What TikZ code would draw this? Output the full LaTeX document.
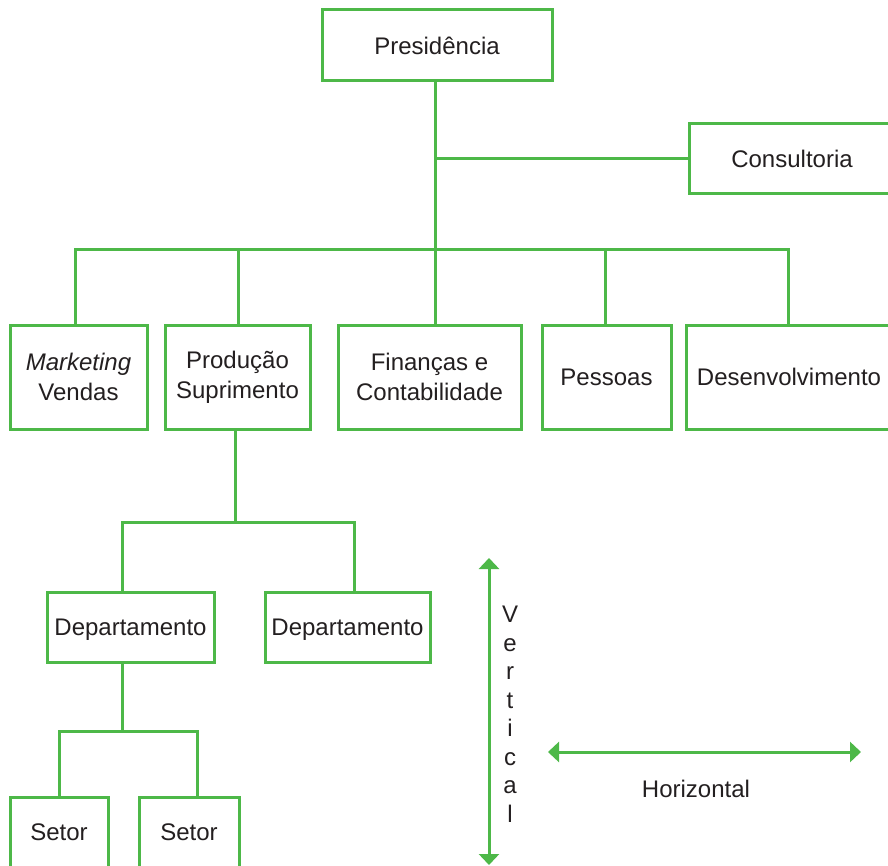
\documentclass[tikz,border=0pt]{standalone}
\usepackage{fontspec}
\setmainfont{Liberation Sans}
\usetikzlibrary{arrows.meta}
\definecolor{orggreen}{HTML}{4DB848}
\definecolor{orgtext}{HTML}{231F20}
\begin{document}
\begin{tikzpicture}[x=1pt,y=-1pt,
  box/.style={draw=orggreen,line width=3pt,fill=white,text=orgtext,align=center,
    inner sep=0pt,font=\fontsize{24}{30}\selectfont},
  link/.style={draw=orggreen,line width=3pt},
  axis/.style={draw=orggreen,line width=3pt,{Triangle[width=20pt,length=11pt]}-{Triangle[width=20pt,length=11pt]}},
  lbl/.style={text=orgtext,inner sep=0pt,align=center,font=\fontsize{24}{28.5}\selectfont}]
\useasboundingbox (0,0) rectangle (888,866);

% top level
\node[box,minimum width=230pt,minimum height=71pt] (pres) at (437,45.5) {Presidência};
\node[box,minimum width=206pt,minimum height=70pt] (cons) at (792,159) {Consultoria};

% directorates
\node[box,minimum width=137pt,minimum height=104pt] (mkt) at (78.5,377) {\textit{Marketing}\\Vendas};
\node[box,minimum width=145pt,minimum height=104pt] (prod) at (237.5,377) {Produção\\Suprimento};
\node[box,minimum width=183pt,minimum height=104pt] (fin) at (429.5,377) {Finanças e\\Contabilidade};
\node[box,minimum width=129pt,minimum height=104pt] (pes) at (606.5,377) {Pessoas};
\node[box,minimum width=206pt,minimum height=104pt] (dev) at (789,377) {Desenvolvimento};

% departments
\node[box,text depth=0pt,minimum width=167pt,minimum height=70pt] (depA) at (130.5,627) {Departamento};
\node[box,text depth=0pt,minimum width=165pt,minimum height=70pt] (depB) at (347.5,627) {Departamento};

% sectors
\node[box,minimum width=98pt,minimum height=70pt] (setA) at (59,832) {Setor};
\node[box,minimum width=100pt,minimum height=70pt] (setB) at (189,832) {Setor};

% junction points
\coordinate (trunk) at (435,250);
\coordinate (cjoin) at (435,159);
\coordinate (pjoin) at (235,522);
\coordinate (djoin) at (122,731);

% presidency to directorates
\draw[link] ([xshift=-2pt]pres.south) -- (trunk);
\draw[link] (cjoin) -- (cons.west);
\draw[link] ([xshift=-3.5pt]mkt.north) |- (trunk);
\draw[link] ([xshift=0.5pt]prod.north) |- (trunk);
\draw[link] ([xshift=5.5pt]fin.north) -- (trunk);
\draw[link] ([xshift=-1.5pt]pes.north) |- (trunk);
\draw[link] ([xshift=-1pt]dev.north) |- (trunk);

% production to departments
\draw[link] ([xshift=-2.5pt]prod.south) -- (pjoin);
\draw[link] ([xshift=-8.5pt]depA.north) |- (pjoin);
\draw[link] ([xshift=6.5pt]depB.north) |- (pjoin);

% department to sectors
\draw[link] ([xshift=-8.5pt]depA.south) -- (djoin);
\draw[link] (setA.north) |- (djoin);
\draw[link] ([xshift=8pt]setB.north) |- (djoin);

% direction arrows
\coordinate (vtop) at (489,558);
\coordinate (vbot) at (489,865);
\coordinate (hl) at (548,752);
\coordinate (hr) at (861,752);
\draw[axis] (vtop) -- (vbot);
\draw[axis] (hl) -- (hr);
\node[lbl] (vlbl) at (510,714) {V\\e\\r\\t\\i\\c\\a\\l};
\node[lbl] (hlbl) at (696,789) {Horizontal};
\end{tikzpicture}
\end{document}
